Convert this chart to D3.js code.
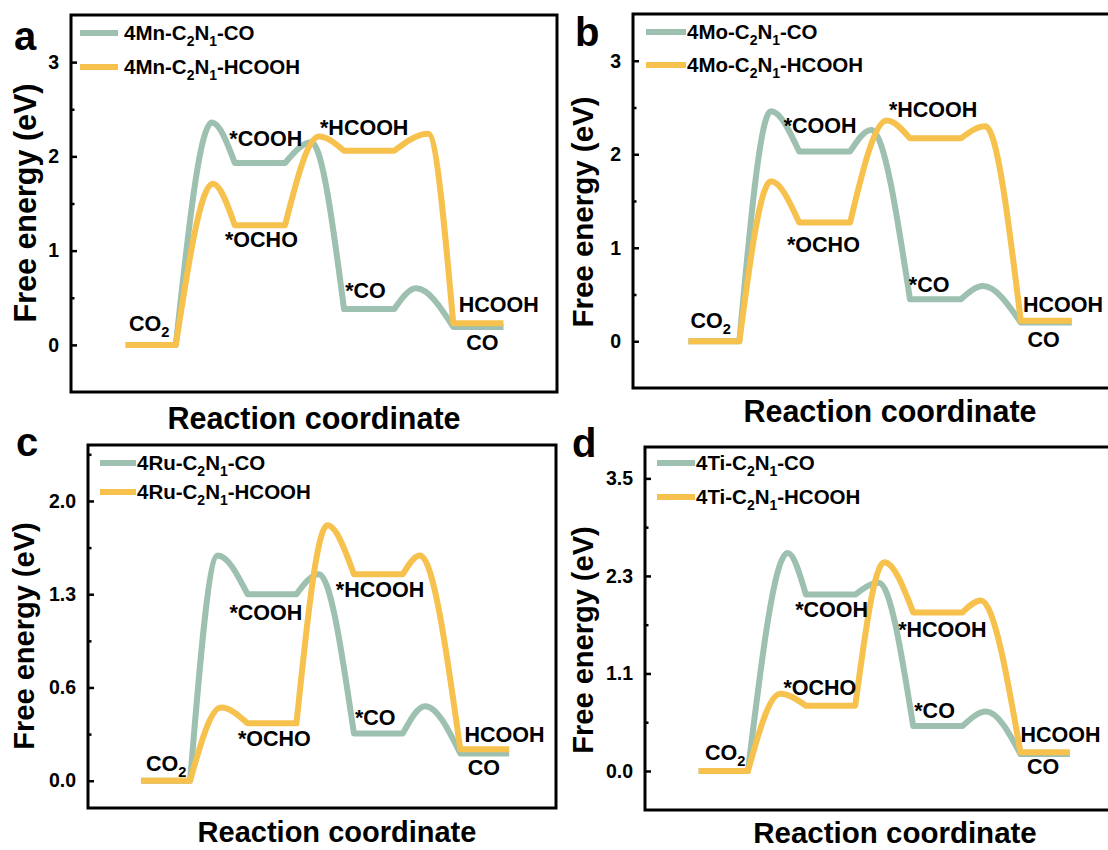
<!DOCTYPE html>
<html><head><meta charset="utf-8">
<script src="https://cdn.jsdelivr.net/npm/d3@7/dist/d3.min.js"></script>
<style>
body{margin:0;background:#fff}
svg{display:block}
text{font-family:"Liberation Sans",Arial,Helvetica,sans-serif;font-weight:bold;fill:#000}
</style></head>
<body><svg id="fig" width="1108" height="850"></svg>
<script>
// ---------------- DATA ----------------
const panelLetters = ["a", "b", "c", "d"];
const metals = ["Mn", "Mo", "Ru", "Ti"];
const plateauWidth = 0.46; // width of each intermediate level, reaction-coordinate units

// CO pathway: CO2, *COOH, *CO, CO ; barriers between them
const mnCOLevels = [0, 1.93, 0.38, 0.19];
const mnCOPeaks  = [2.36, 2.15, 0.60];
const mnCOPeakX  = [0.79, 1.70, 2.66];
// HCOOH pathway: CO2, *OCHO, *HCOOH, HCOOH
const mnHCLevels = [0, 1.27, 2.06, 0.23];
const mnHCPeaks  = [1.71, 2.21, 2.24];
const mnHCPeakX  = [0.80, 1.77, 2.77];

const moCOLevels = [0, 2.03, 0.45, 0.20];
const moCOPeaks  = [2.46, 2.26, 0.59];
const moCOPeakX  = [0.745, 1.65, 2.66];
const moHCLevels = [0, 1.27, 2.17, 0.22];
const moHCPeaks  = [1.71, 2.36, 2.30];
const moHCPeakX  = [0.745, 1.79, 2.68];

const ruCOLevels = [0, 1.30, 0.33, 0.19];
const ruCOPeaks  = [1.57, 1.44, 0.52];
const ruCOPeakX  = [0.72, 1.67, 2.67];
const ruHCLevels = [0, 0.40, 1.44, 0.22];
const ruHCPeaks  = [0.51, 1.78, 1.57];
const ruHCPeakX  = [0.75, 1.75, 2.62];

const tiCOLevels = [0, 2.08, 0.53, 0.20];
const tiCOPeaks  = [2.57, 2.22, 0.70];
const tiCOPeakX  = [0.83, 1.68, 2.68];
const tiHCLevels = [0, 0.77, 1.87, 0.22];
const tiHCPeaks  = [0.91, 2.46, 2.01];
const tiHCPeakX  = [0.76, 1.73, 2.63];

// axis domains
const yDomainA = [-0.5, 3.5], yDomainB = [-0.5, 3.5], yDomainC = [-0.19, 2.34], yDomainD = [-0.46, 3.82];
const xDomainA = [-0.5, 3.95], xDomainB = [-0.5, 3.95], xDomainC = [-0.5, 3.9], xDomainD = [-0.5, 3.9];

// y ticks
const ticksAB = [0, 1, 2, 3];
const tickLabelsAB = ["0", "1", "2", "3"];
const ticksC = [0, 0.65, 1.3, 1.95];
const tickLabelsC = ["0.0", "0.6", "1.3", "2.0"];
const ticksD = [0, 1.15, 2.3, 3.45];
const tickLabelsD = ["0.0", "1.1", "2.3", "3.5"];

// annotation labels [text, x (reaction coord), y (eV)]
const labelsA = [["CO2", 0.03, 0.15], ["*COOH", 0.95, 2.11], ["*OCHO", 0.91, 1.04], ["*HCOOH", 1.78, 2.23], ["*CO", 2.01, 0.50], ["HCOOH", 3.05, 0.35], ["CO", 3.12, -0.05]];
const labelsB = [["CO2", 0.02, 0.14], ["*COOH", 0.86, 2.23], ["*OCHO", 0.89, 0.95], ["*HCOOH", 1.81, 2.40], ["*CO", 1.99, 0.53], ["HCOOH", 3.02, 0.31], ["CO", 3.06, -0.06]];
const labelsC = [["CO2", 0.045, 0.07], ["*COOH", 0.83, 1.12], ["*OCHO", 0.91, 0.24], ["*HCOOH", 1.83, 1.28], ["*CO", 2.01, 0.39], ["HCOOH", 3.04, 0.27], ["CO", 3.07, 0.04]];
const labelsD = [["CO2", 0.06, 0.13], ["*COOH", 0.90, 1.81], ["*OCHO", 0.79, 0.90], ["*HCOOH", 1.86, 1.58], ["*CO", 2.01, 0.62], ["HCOOH", 3.00, 0.34], ["CO", 3.06, -0.04]];

const yTitle = "Free energy (eV)";
const xTitle = "Reaction coordinate";

// ---------------- STYLE / LAYOUT ----------------
const GREEN = "#9dc0b0", YELLOW = "#f6c14c";
const LW = 6;
const FS_LEG = 20.5, FS_ANN = 21.5, FS_TICK = 19.5;

const panels = [
  {letter: panelLetters[0], metal: metals[0], frame: [71, 15, 557, 392], xd: xDomainA, yd: yDomainA, ticks: ticksAB, tl: tickLabelsAB,
   co: [mnCOLevels, mnCOPeaks, mnCOPeakX], hc: [mnHCLevels, mnHCPeaks, mnHCPeakX], labels: labelsA,
   leg: [80, 118, 124, 33, 67], letterPos: [14, 50], yt: [36, 203, 30.5], xt: [314, 429, 30.5]},
  {letter: panelLetters[1], metal: metals[1], frame: [633, 14, 1126, 388], xd: xDomainB, yd: yDomainB, ticks: ticksAB, tl: tickLabelsAB,
   co: [moCOLevels, moCOPeaks, moCOPeakX], hc: [moHCLevels, moHCPeaks, moHCPeakX], labels: labelsB,
   leg: [646, 686, 687, 32, 65], letterPos: [575, 46], yt: [593, 212, 29.5], xt: [890, 422, 30.5]},
  {letter: panelLetters[2], metal: metals[2], frame: [88, 445, 556, 808], xd: xDomainC, yd: yDomainC, ticks: ticksC, tl: tickLabelsC,
   co: [ruCOLevels, ruCOPeaks, ruCOPeakX], hc: [ruHCLevels, ruHCPeaks, ruHCPeakX], labels: labelsC,
   leg: [100, 136, 137, 463, 492], letterPos: [16, 456], yt: [34, 636, 29], xt: [337, 842, 29]},
  {letter: panelLetters[3], metal: metals[3], frame: [645, 447, 1117, 810], xd: xDomainD, yd: yDomainD, ticks: ticksD, tl: tickLabelsD,
   co: [tiCOLevels, tiCOPeaks, tiCOPeakX], hc: [tiHCLevels, tiHCPeaks, tiHCPeakX], labels: labelsD,
   leg: [657, 695, 696, 463, 497], letterPos: [572, 457], yt: [593, 640, 29], xt: [895, 843, 29.5]}
];

const svg = d3.select("#fig");

function buildPath(levels, peaks, peakX, xs, ys) {
  const p = d3.path();
  const ctx = {
    moveTo(x, y) { p.lineTo(x, y); },
    lineTo(x, y) { p.lineTo(x, y); },
    bezierCurveTo(a, b, c, d, e, f) { p.bezierCurveTo(a, b, c, d, e, f); },
    closePath() {}
  };
  const spline = d3.line().x(d => xs(d[0])).y(d => ys(d[1])).curve(d3.curveMonotoneX).context(ctx);
  p.moveTo(xs(0), ys(levels[0]));
  p.lineTo(xs(plateauWidth), ys(levels[0]));
  for (let i = 0; i < peaks.length; i++) {
    spline([[i + plateauWidth, levels[i]], [peakX[i], peaks[i]], [i + 1, levels[i + 1]]]);
    p.lineTo(xs(i + 1 + plateauWidth), ys(levels[i + 1]));
  }
  return p.toString();
}

function richText(sel, str, fs) {
  const parts = [];
  if (str === "CO2") { parts.push(["CO", false]); parts.push(["2", true]); }
  else parts.push([str, false]);
  parts.forEach(([t, sub]) => {
    const ts = sel.append("tspan").text(t);
    if (sub) ts.attr("font-size", fs * 0.68).attr("dy", fs * 0.28);
  });
}

function legendText(sel, metal, tail, fs) {
  const segs = [["4" + metal + "-C", false], ["2", true], ["N", false], ["1", true], ["-" + tail, false]];
  let shifted = false;
  segs.forEach(([t, sub]) => {
    const ts = sel.append("tspan").text(t);
    if (sub) { ts.attr("font-size", fs * 0.68).attr("dy", fs * 0.28); shifted = true; }
    else if (shifted) { ts.attr("dy", -fs * 0.28); shifted = false; }
  });
}

panels.forEach(P => {
  const [l, t, r, b] = P.frame;
  const xs = d3.scaleLinear().domain(P.xd).range([l, r]);
  const ys = d3.scaleLinear().domain(P.yd).range([b, t]);
  const g = svg.append("g");

  g.append("path").attr("d", buildPath(P.co[0], P.co[1], P.co[2], xs, ys))
    .attr("fill", "none").attr("stroke", GREEN).attr("stroke-width", LW).attr("stroke-linejoin", "round");
  g.append("path").attr("d", buildPath(P.hc[0], P.hc[1], P.hc[2], xs, ys))
    .attr("fill", "none").attr("stroke", YELLOW).attr("stroke-width", LW).attr("stroke-linejoin", "round");

  g.append("rect").attr("x", l).attr("y", t).attr("width", r - l).attr("height", b - t)
    .attr("fill", "none").attr("stroke", "#000").attr("stroke-width", 3);

  const axis = d3.axisLeft(ys).tickValues(P.ticks).tickSize(-6).tickPadding(12)
    .tickFormat((d, i) => P.tl[i]);
  const ag = g.append("g").attr("transform", `translate(${l},0)`).call(axis);
  ag.select(".domain").remove();
  ag.selectAll(".tick line").attr("stroke", "#000").attr("stroke-width", 2.5);
  ag.selectAll(".tick text").attr("font-size", FS_TICK).attr("font-family", "Liberation Sans, Arial, sans-serif").attr("font-weight", "bold").attr("fill", "#000");
  const step = P.ticks[1] - P.ticks[0];
  const minors = [];
  for (let k = -2; k < 10; k++) {
    const v = P.ticks[0] + (k + 0.5) * step;
    if (v > P.yd[0] + 0.05 && v < P.yd[1] - 0.05) minors.push(v);
  }
  const minorAxis = d3.axisLeft(ys).tickValues(minors).tickSize(-3.5).tickFormat("");
  const mg = g.append("g").attr("transform", `translate(${l},0)`).call(minorAxis);
  mg.select(".domain").remove();
  mg.selectAll(".tick line").attr("stroke", "#000").attr("stroke-width", 2.5);

  const [lx0, lx1, tx, ly1, ly2] = P.leg;
  [[ly1, GREEN, "CO"], [ly2, YELLOW, "HCOOH"]].forEach(([yy, c, tail]) => {
    g.append("line").attr("x1", lx0).attr("x2", lx1).attr("y1", yy).attr("y2", yy)
      .attr("stroke", c).attr("stroke-width", LW);
    const tt = g.append("text").attr("x", tx).attr("y", yy + 7).attr("font-size", FS_LEG);
    legendText(tt, P.metal, tail, FS_LEG);
  });

  P.labels.forEach(([txt, x, y]) => {
    const tt = g.append("text").attr("x", xs(x)).attr("y", ys(y)).attr("font-size", FS_ANN);
    richText(tt, txt, FS_ANN);
  });

  g.append("text").attr("transform", `translate(${P.yt[0]},${P.yt[1]}) rotate(-90)`)
    .attr("text-anchor", "middle").attr("font-size", P.yt[2]).text(yTitle);
  g.append("text").attr("x", P.xt[0]).attr("y", P.xt[1]).attr("text-anchor", "middle")
    .attr("font-size", P.xt[2]).text(xTitle);

  g.append("text").attr("x", P.letterPos[0]).attr("y", P.letterPos[1]).attr("font-size", 40).text(P.letter);
});
</script>
</body></html>
